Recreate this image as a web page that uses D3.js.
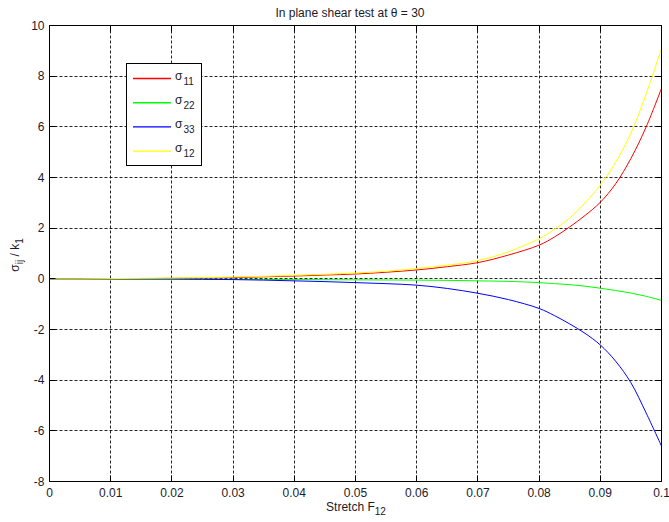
<!DOCTYPE html>
<html><head><meta charset="utf-8">
<script src="https://cdn.jsdelivr.net/npm/d3@7"></script>
<style>
html,body{margin:0;padding:0;background:#fff;}
svg text{font-family:"Liberation Sans",Arial,sans-serif;}
</style></head>
<body>
<script>
// data
const strain = [0,0.005,0.01,0.015,0.02,0.025,0.03,0.035,0.04,0.045,0.05,0.055,0.06,0.065,0.07,0.075,0.08,0.0825,0.085,0.0875,0.09,0.0925,0.095,0.0975,0.1];
const sigma11 = [0,0,0.005,0.01,0.02,0.03,0.05,0.08,0.11,0.15,0.19,0.26,0.35,0.48,0.64,0.94,1.33,1.65,2.05,2.5,3.02,3.75,4.75,6.0,7.52];
const sigma22 = [0,0,0,-0.005,-0.01,-0.015,-0.02,-0.025,-0.03,-0.035,-0.04,-0.045,-0.05,-0.06,-0.08,-0.1,-0.15,-0.19,-0.23,-0.29,-0.37,-0.46,-0.56,-0.69,-0.85];
const sigma33 = [0,0,-0.005,-0.008,-0.01,-0.02,-0.03,-0.05,-0.08,-0.11,-0.15,-0.19,-0.25,-0.38,-0.57,-0.82,-1.17,-1.45,-1.78,-2.15,-2.61,-3.25,-4.1,-5.3,-6.6];
const sigma12 = [0,0,0.01,0.02,0.03,0.05,0.07,0.1,0.14,0.18,0.23,0.3,0.41,0.54,0.72,1.07,1.58,1.95,2.4,3.0,3.7,4.6,5.75,7.3,9.1];
const seriesNames = ["11","22","33","12"];
const seriesColors = ["#ff0000","#00ff00","#0000ff","#ffff00"];
const seriesValues = [sigma11,sigma22,sigma33,sigma12];
const xTicks = [0,0.01,0.02,0.03,0.04,0.05,0.06,0.07,0.08,0.09,0.1];
const yTicks = [-8,-6,-4,-2,0,2,4,6,8,10];

const W=669,H=522;
const L=49.5,R=661.5,T=25.5,B=481.5;
const svg=d3.select("body").append("svg").attr("width",W).attr("height",H);
const x=d3.scaleLinear().domain([0,0.1]).range([L,R]);
const y=d3.scaleLinear().domain([-8,10]).range([B,T]);
const px=v=>Math.round(x(v)-0.5)+0.5;
const py=v=>Math.round(y(v)-0.5)+0.5;

// grid
const g=svg.append("g");
xTicks.slice(1,-1).forEach(t=>{
  g.append("line").attr("x1",px(t)).attr("x2",px(t)).attr("y1",T).attr("y2",B)
   .attr("stroke","#000").attr("stroke-width",1).attr("stroke-dasharray","3,2").attr("opacity",0.85);
});
yTicks.slice(1,-1).forEach(t=>{
  g.append("line").attr("y1",py(t)).attr("y2",py(t)).attr("x1",L).attr("x2",R)
   .attr("stroke","#000").attr("stroke-width",1).attr("stroke-dasharray","3,2").attr("opacity",0.85);
});

// lines
svg.append("defs").append("clipPath").attr("id","clip").append("rect")
  .attr("x",L).attr("y",T).attr("width",R-L).attr("height",B-T);
const lineGen=d3.line().x((d,i)=>x(strain[i])).y(d=>y(d)).curve(d3.curveCatmullRom.alpha(0.5));
seriesValues.forEach((vals,k)=>{
  svg.append("path").attr("d",lineGen(vals)).attr("fill","none")
    .attr("stroke",seriesColors[k]).attr("stroke-width",1).attr("clip-path","url(#clip)");
});

// axes box with inward ticks
const tl=6;
svg.append("rect").attr("x",L).attr("y",T).attr("width",R-L).attr("height",B-T)
  .attr("fill","none").attr("stroke","#000").attr("stroke-width",1);
xTicks.forEach(t=>{
  svg.append("line").attr("x1",px(t)).attr("x2",px(t)).attr("y1",B).attr("y2",B-tl).attr("stroke","#000");
  svg.append("line").attr("x1",px(t)).attr("x2",px(t)).attr("y1",T).attr("y2",T+tl).attr("stroke","#000");
});
yTicks.forEach(t=>{
  svg.append("line").attr("y1",py(t)).attr("y2",py(t)).attr("x1",L).attr("x2",L+tl).attr("stroke","#000");
  svg.append("line").attr("y1",py(t)).attr("y2",py(t)).attr("x1",R).attr("x2",R-tl).attr("stroke","#000");
});

// tick labels
const fs=12;
xTicks.forEach(t=>{
  svg.append("text").attr("x",x(t)).attr("y",B+15).attr("text-anchor","middle")
    .attr("font-size",fs).attr("fill","#1a1a2a").text(d3.format("~g")(t));
});
yTicks.forEach(t=>{
  svg.append("text").attr("x",L-5).attr("y",y(t)+4).attr("text-anchor","end")
    .attr("font-size",fs).attr("fill","#1a1a2a").text(t);
});

// title
svg.append("text").attr("x",350).attr("y",17).attr("text-anchor","middle")
  .attr("font-size",fs).attr("fill","#1a1a2a").text("In plane shear test at θ = 30");

// x label
const xl=svg.append("text").attr("x",356).attr("y",511).attr("text-anchor","middle")
  .attr("font-size",fs).attr("fill","#1a1a2a");
xl.append("tspan").text("Stretch F");
xl.append("tspan").attr("dy",4).attr("font-size",10).text("12");

// y label
const yl=svg.append("text").attr("transform","translate(19,255) rotate(-90)")
  .attr("text-anchor","middle").attr("font-size",fs).attr("fill","#1a1a2a");
yl.append("tspan").text("σ");
yl.append("tspan").attr("dy",4).attr("font-size",10).text("ij");
yl.append("tspan").attr("dy",-4).text(" / k");
yl.append("tspan").attr("dy",4).attr("font-size",10).text("1");

// legend
const lg=svg.append("g");
lg.append("rect").attr("x",126.5).attr("y",63.5).attr("width",75).attr("height",102)
  .attr("fill","#fff").attr("stroke","#000").attr("stroke-width",1);
seriesNames.forEach((n,k)=>{
  const yy=78.5+k*24.2;
  lg.append("path").attr("d",`M133,${yy}L171,${yy}`)
    .attr("fill","none").attr("stroke",seriesColors[k]).attr("stroke-width",1.4);
  const t=lg.append("text").attr("x",175).attr("y",yy+1).attr("font-size",fs).attr("fill","#1a1a2a");
  t.append("tspan").text("σ");
  t.append("tspan").attr("dy",5).attr("dx",1).attr("font-size",10).text(n);
});
</script>
</body></html>
